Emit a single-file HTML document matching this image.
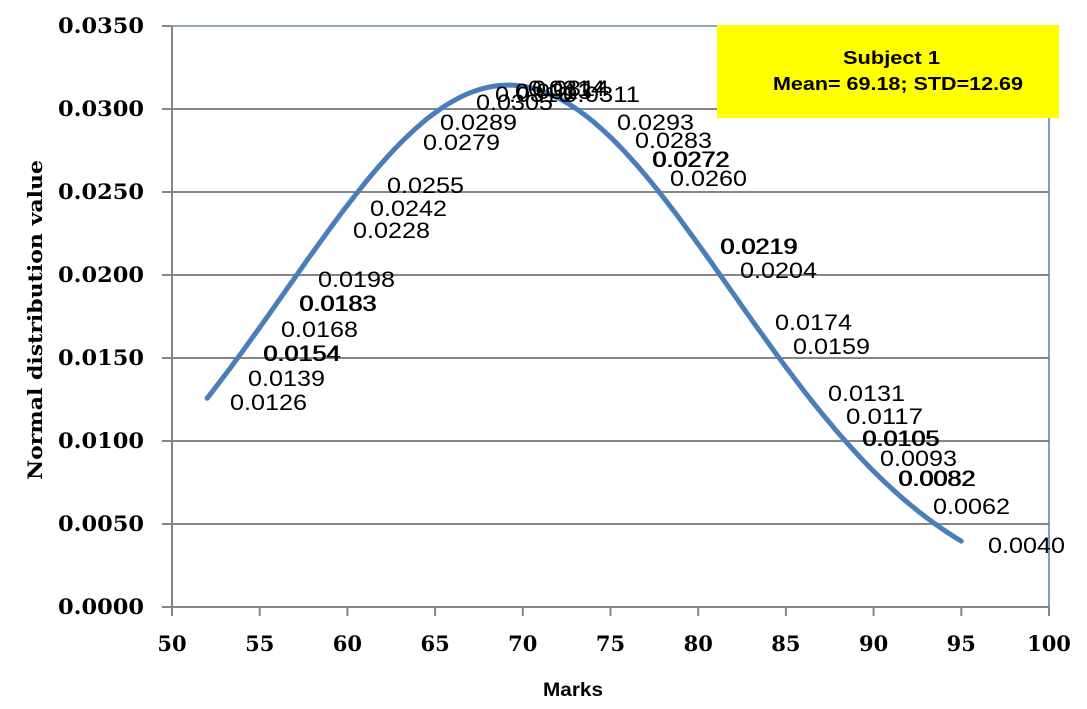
<!DOCTYPE html>
<html><head><meta charset="utf-8"><style>
body{margin:0;background:#fff;}
svg text{font-family:"Liberation Sans",sans-serif;}
.yt,.xt{font-family:"DejaVu Serif","Liberation Serif",serif;font-weight:bold;fill:#000;}
.yt{font-size:21px;}
.xt{font-size:21px;}
.lb{font-size:22px;fill:#000;}
</style></head><body>
<svg id="s" width="1087" height="704" xmlns="http://www.w3.org/2000/svg">
<g id="grid" stroke="#868686" stroke-width="2"></g>
<line x1="1049" y1="26" x2="1049" y2="607" stroke="#4a7ebb" stroke-width="1.5"/>
<line x1="172" y1="26" x2="1049" y2="26" stroke="#6d8ab0" stroke-width="1.5"/>
<line x1="172" y1="26" x2="172" y2="607" stroke="#868686" stroke-width="2"/>
<path id="curve" fill="none" stroke="#4a7ebb" stroke-width="5" stroke-linecap="round" stroke-linejoin="round"/>
<rect x="717" y="25" width="342" height="93" fill="#ffff00"/>
<text x="843" y="64" font-weight="bold" font-size="18" textLength="97" lengthAdjust="spacingAndGlyphs">Subject 1</text>
<text x="773" y="90" font-weight="bold" font-size="18" textLength="250" lengthAdjust="spacingAndGlyphs">Mean= 69.18; STD=12.69</text>
<g id="labels" class="lb"></g>
<text x="543" y="696" font-weight="bold" font-size="19" textLength="60" lengthAdjust="spacingAndGlyphs">Marks</text>
<text transform="translate(42,320) rotate(-90)" text-anchor="middle" class="yt" style="font-size:20px" textLength="320" lengthAdjust="spacingAndGlyphs">Normal distribution value</text>
</svg>
<script>
var s=document.getElementById('s'),g=document.getElementById('grid'),NS="http://www.w3.org/2000/svg";
function X(v){return 172+(v-50)*17.54;}function Y(v){return 607-v/0.005*83;}
function el(t,a,p,txt){var e=document.createElementNS(NS,t);for(var k in a)e.setAttribute(k,a[k]);if(txt!=null)e.textContent=txt;(p||s).appendChild(e);return e;}
for(var i=0;i<=7;i++){var y=Y(i*0.005);if(i>0&&i<7)el('line',{x1:172,y1:y,x2:1049,y2:y},g);el('line',{x1:162,y1:y,x2:172,y2:y},g);
el('text',{x:58,y:y+7,'class':'yt',textLength:86,lengthAdjust:'spacingAndGlyphs'},s,(i*0.005).toFixed(4));}
el('line',{x1:172,y1:607,x2:1049,y2:607},g);
for(var v=50;v<=100;v+=5){var x=X(v);el('line',{x1:x,y1:607,x2:x,y2:616},g);el('text',{x:x,y:651,'text-anchor':'middle','class':'xt'},s,v);}
var d="";for(var m=52;m<=95.001;m+=0.25){var p=Math.exp(-0.5*Math.pow((m-69.18)/12.69,2))/(12.69*2.5066);d+=(d?"L":"M")+X(m).toFixed(1)+","+Y(p).toFixed(1);}
document.getElementById('curve').setAttribute('d',d);
var L=[["0.0126",230,410],["0.0139",248,386],["0.0154",263,361],["0.0154",264,361],["0.0168",281,337],["0.0183",299,311],["0.0183",300,311],["0.0198",318,287],["0.0228",353,238],["0.0242",370,216],["0.0255",387,193],["0.0279",423,150],["0.0289",440,130],["0.0305",476,110],["0.0310",495,102],["0.0313",515,99],["0.0314",528,96],["0.0314",532,96],["0.0311",563,102],["0.0293",617,130],["0.0283",635,148],["0.0272",652,167],["0.0272",653,167],["0.0260",670,186],["0.0219",720,254],["0.0219",721,254],["0.0204",740,278],["0.0174",775,330],["0.0159",793,354],["0.0131",828,401],["0.0117",846,424],["0.0105",862,446],["0.0105",863,446],["0.0093",880,466],["0.0082",898,486],["0.0082",899,486],["0.0062",933,514],["0.0040",988,553]];
var lg=document.getElementById('labels');L.forEach(function(a){el('text',{x:a[1],y:a[2],textLength:77,lengthAdjust:'spacingAndGlyphs'},lg,a[0]);});
</script>
</body></html>
